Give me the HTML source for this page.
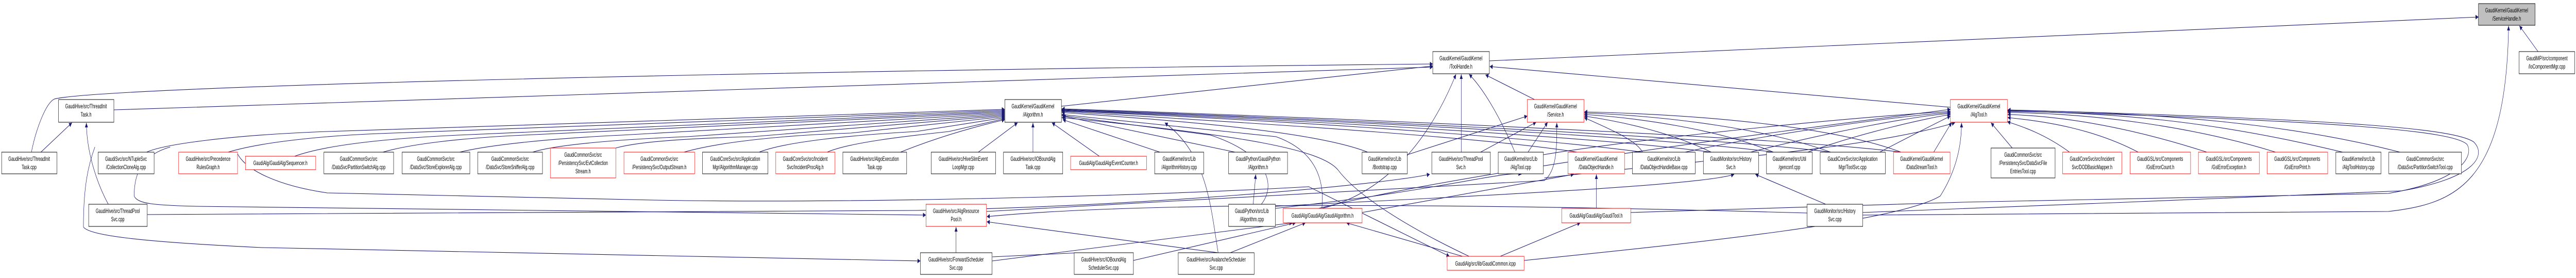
<!DOCTYPE html>
<html><head><meta charset="utf-8"><style>
html,body{margin:0;padding:0;background:#fff;width:100vw;height:100vh;overflow:hidden;}
svg{display:block;width:100vw;height:100vh;}
text{font-family:"Liberation Sans",Arial,sans-serif;font-size:11.5px;fill:#000;text-anchor:middle;}
.e{fill:none;stroke:#191970;stroke-width:1.1;}
.n{fill:#fff;stroke:#000;stroke-width:1;}
.r{fill:#fff;stroke:#ff0000;stroke-width:1;}
</style></head><body>
<svg viewBox="0 0 7873 539" preserveAspectRatio="none" xmlns="http://www.w3.org/2000/svg">
<defs><marker id="a" viewBox="0 0 10 10" refX="10" refY="5" markerWidth="9" markerHeight="9" markerUnits="userSpaceOnUse" orient="auto"><path d="M0,0 L10,5 L0,10 z" fill="#191970"/></marker></defs>
<g class="e" marker-end="url(#a)">
<path d="M4552,118 L7575,33"/>
<path d="M7757,100 L7700,50"/>
<path d="M5693,417 L7300,410 C7500,395 7660,360 7667,50"/>
<path d="M96,295 C110,250 140,200 166,192 C300,170 2000,140 4379,124"/>
<path d="M348,213 C1200,190 3000,160 4379,130"/>
<path d="M3244,206 L4379,128"/>
<path d="M125,295 L220,238"/>
<path d="M331,396 C300,360 265,300 264,238"/>
<path d="M450,416 C1500,412 2500,410 2800,408 C3500,400 4200,360 4370,338"/>
<path d="M4690,193 L4540,145"/>
<path d="M5961,208 L4553,129"/>
<path d="M4466,295 L4466,144"/>
<path d="M4630,295 C4580,220 4530,170 4490,144"/>
<path d="M4040,404 C4200,380 4350,300 4450,144"/>
<path d="M448,295 C500,280 700,262 1000,255 L3071,212"/>
<path d="M697,295 C800,275 1000,262 1200,258 L3071,214"/>
<path d="M900,303 C1000,280 1200,268 1400,262 L3071,216"/>
<path d="M1170,295 C1250,280 1400,268 1600,262 L3071,218"/>
<path d="M1405,295 C1500,280 1700,268 1900,262 L3071,220"/>
<path d="M1628,295 C1700,280 1900,270 2100,265 L3071,222"/>
<path d="M1882,287 C1950,275 2100,268 2300,265 L3071,224"/>
<path d="M2090,295 C2200,275 2400,262 2600,258 L3071,226"/>
<path d="M2320,295 C2400,275 2600,262 2800,255 L3071,228"/>
<path d="M2528,295 C2600,275 2800,262 2900,255 L3071,230"/>
<path d="M2752,295 C2850,270 2950,250 3071,232"/>
<path d="M2990,295 L3110,238"/>
<path d="M3157,295 L3157,238"/>
<path d="M3360,303 L3215,238"/>
<path d="M3545,295 L3248,232"/>
<path d="M3775,295 L3248,225"/>
<path d="M520,285 C440,300 410,330 410,380 C420,395 470,398 600,400 L2830,417"/>
<path d="M290,285 C270,320 255,360 255,440 C270,455 400,468 800,480 L2813,506"/>
<path d="M725,297 C750,330 850,360 1000,374 L2000,388 C2600,395 3500,380 4000,362 L4430,497"/>
<path d="M5020,295 C4600,260 3800,230 3245,215"/>
<path d="M5230,295 C4800,260 3800,228 3245,214"/>
<path d="M5420,295 C5000,260 3800,226 3245,213"/>
<path d="M5595,295 C5200,262 3800,224 3245,212"/>
<path d="M5810,295 C5400,262 3800,222 3245,211"/>
<path d="M4820,295 C4500,262 3600,230 3245,216"/>
<path d="M4180,295 C4000,250 3500,230 3245,218"/>
<path d="M4040,404 C4050,340 4010,290 3900,265 L3245,222"/>
<path d="M3855,396 C3900,360 3880,300 3700,262 L3245,224"/>
<path d="M4490,497 C4300,440 4150,380 4090,330 C4040,290 3800,262 3245,228"/>
<path d="M3723,490 C3700,400 3690,300 3560,238"/>
<path d="M3830,396 L3838,338"/>
<path d="M4301,300 L4668,225"/>
<path d="M4525,295 L4695,237"/>
<path d="M4670,295 L4730,237"/>
<path d="M3015,410 L4720,350 C4760,330 4758,280 4758,238"/>
<path d="M5020,295 C5000,270 4900,245 4842,228"/>
<path d="M5230,295 C5100,255 4950,235 4842,225"/>
<path d="M5420,295 C5250,250 5000,228 4842,222"/>
<path d="M5595,295 C5400,250 5100,225 4842,219"/>
<path d="M5810,295 C5600,245 5200,222 4842,217"/>
<path d="M4717,300 C5000,270 5600,230 5961,216"/>
<path d="M5150,295 C5400,260 5800,225 5961,218"/>
<path d="M5350,295 C5600,255 5850,225 5961,220"/>
<path d="M5525,295 C5700,255 5900,228 5961,222"/>
<path d="M5745,295 C5850,260 5930,235 5961,225"/>
<path d="M5910,295 L5965,237"/>
<path d="M4030,404 C4500,330 5500,250 5961,212"/>
<path d="M6150,287 L6085,238"/>
<path d="M6325,295 C6250,260 6180,245 6135,236"/>
<path d="M6535,295 C6400,250 6250,235 6136,228"/>
<path d="M6745,295 C6500,245 6300,225 6136,222"/>
<path d="M6955,295 C6700,245 6400,220 6136,218"/>
<path d="M7160,295 C6800,240 6500,218 6136,216"/>
<path d="M7335,295 C7000,240 6600,218 6136,214"/>
<path d="M4984,412 L6000,392 L7300,375 C7530,350 7560,300 7540,280 C7500,255 7200,235 6136,215"/>
<path d="M5693,412 L6500,392 L7340,370 C7570,345 7600,300 7560,275 C7500,250 7200,232 6136,213"/>
<path d="M4658,505 C5200,470 5800,430 5930,380 C5980,330 5995,280 5995,238"/>
<path d="M4720,345 C5200,310 5700,290 5975,238"/>
<path d="M2922,490 L2922,440"/>
<path d="M3723,490 L3016,430"/>
<path d="M3032,506 L3950,432"/>
<path d="M3464,505 L3960,432"/>
<path d="M3760,490 L3990,432"/>
<path d="M3033,498 L3300,490 L3464,495"/>
<path d="M4470,497 L4115,432"/>
<path d="M4585,497 L4830,432"/>
<path d="M4163,412 L4810,338"/>
<path d="M4879,404 L4879,338"/>
<path d="M5580,396 L5365,338"/>
<path d="M5523,413 C4500,395 3500,390 3016,420"/>
<path d="M3898,400 C4500,380 5200,360 5300,338"/>
<path d="M3898,404 C4400,370 4600,330 4650,338"/>
</g>
<g>
<rect class="n" x="7575" y="7" width="173" height="42" style="fill:#bfbfbf"/><text x="7661" y="24">GaudiKernel/GaudiKernel</text><text x="7661" y="40">/ServiceHandle.h</text>
<rect class="n" x="4379" y="100" width="173" height="43"/><text x="4465" y="117">GaudiKernel/GaudiKernel</text><text x="4465" y="133">/ToolHandle.h</text>
<rect class="n" x="7699" y="100" width="170" height="43"/><text x="7784" y="117">GaudiMP/src/component</text><text x="7784" y="133">/IoComponentMgr.cpp</text>
<rect class="n" x="179" y="193" width="169" height="44"/><text x="263" y="210">GaudiHive/src/ThreadInit</text><text x="263" y="226">Task.h</text>
<rect class="n" x="3071" y="193" width="173" height="44"/><text x="3157" y="210">GaudiKernel/GaudiKernel</text><text x="3157" y="226">/Algorithm.h</text>
<rect class="r" x="4668" y="193" width="173" height="44"/><text x="4754" y="210">GaudiKernel/GaudiKernel</text><text x="4754" y="226">/Service.h</text>
<rect class="r" x="5961" y="193" width="174" height="44"/><text x="6048" y="210">GaudiKernel/GaudiKernel</text><text x="6048" y="226">/AlgTool.h</text>

<rect class="n" x="5" y="295" width="169" height="42"/><text x="89" y="312">GaudiHive/src/ThreadInit</text><text x="89" y="328">Task.cpp</text>
<rect class="n" x="300" y="295" width="171" height="42"/><text x="385" y="312">GaudiSvc/src/NTupleSvc</text><text x="385" y="328">/CollectionCloneAlg.cpp</text>
<rect class="r" x="546" y="295" width="180" height="42"/><text x="636" y="312">GaudiHive/src/Precedence</text><text x="636" y="328">RulesGraph.h</text>
<rect class="r" x="750" y="303" width="215" height="26"/><text x="857" y="320">GaudiAlg/GaudiAlg/Sequencer.h</text>
<rect class="n" x="990" y="295" width="213" height="42"/><text x="1096" y="312">GaudiCommonSvc/src</text><text x="1096" y="328">/DataSvc/PartitionSwitchAlg.cpp</text>
<rect class="n" x="1229" y="295" width="207" height="42"/><text x="1332" y="312">GaudiCommonSvc/src</text><text x="1332" y="328">/DataSvc/StoreExplorerAlg.cpp</text>
<rect class="n" x="1460" y="295" width="198" height="42"/><text x="1559" y="312">GaudiCommonSvc/src</text><text x="1559" y="328">/DataSvc/StoreSnifferAlg.cpp</text>
<rect class="r" x="1682" y="287" width="200" height="58"/><text x="1782" y="304">GaudiCommonSvc/src</text><text x="1782" y="320">/PersistencySvc/EvtCollection</text><text x="1782" y="336">Stream.h</text>
<rect class="r" x="1907" y="295" width="216" height="42"/><text x="2015" y="312">GaudiCommonSvc/src</text><text x="2015" y="328">/PersistencySvc/OutputStream.h</text>
<rect class="n" x="2147" y="295" width="200" height="42"/><text x="2247" y="312">GaudiCoreSvc/src/Application</text><text x="2247" y="328">Mgr/AlgorithmManager.cpp</text>
<rect class="r" x="2371" y="295" width="181" height="42"/><text x="2461" y="312">GaudiCoreSvc/src/Incident</text><text x="2461" y="328">Svc/IncidentProcAlg.h</text>
<rect class="n" x="2576" y="295" width="195" height="42"/><text x="2673" y="312">GaudiHive/src/AlgoExecution</text><text x="2673" y="328">Task.cpp</text>
<rect class="n" x="2846" y="295" width="197" height="42"/><text x="2944" y="312">GaudiHive/src/HiveSlimEvent</text><text x="2944" y="328">LoopMgr.cpp</text>
<rect class="n" x="3067" y="295" width="181" height="42"/><text x="3157" y="312">GaudiHive/src/IOBoundAlg</text><text x="3157" y="328">Task.cpp</text>
<rect class="r" x="3272" y="303" width="232" height="26"/><text x="3388" y="320">GaudiAlg/GaudiAlg/EventCounter.h</text>
<rect class="n" x="3529" y="295" width="150" height="42"/><text x="3604" y="312">GaudiKernel/src/Lib</text><text x="3604" y="328">/AlgorithmHistory.cpp</text>
<rect class="n" x="3755" y="295" width="180" height="42"/><text x="3845" y="312">GaudiPython/GaudiPython</text><text x="3845" y="328">/Algorithm.h</text>
<rect class="n" x="4163" y="295" width="138" height="42"/><text x="4232" y="312">GaudiKernel/src/Lib</text><text x="4232" y="328">/Bootstrap.cpp</text>
<rect class="n" x="4376" y="295" width="179" height="42"/><text x="4465" y="312">GaudiHive/src/ThreadPool</text><text x="4465" y="328">Svc.h</text>
<rect class="n" x="4579" y="295" width="138" height="42"/><text x="4648" y="312">GaudiKernel/src/Lib</text><text x="4648" y="328">/AlgTool.cpp</text>
<rect class="r" x="4792" y="295" width="173" height="42"/><text x="4878" y="312">GaudiKernel/GaudiKernel</text><text x="4878" y="328">/DataObjectHandle.h</text>
<rect class="n" x="4989" y="295" width="192" height="42"/><text x="5085" y="312">GaudiKernel/src/Lib</text><text x="5085" y="328">/DataObjectHandleBase.cpp</text>
<rect class="n" x="5206" y="295" width="169" height="42"/><text x="5290" y="312">GaudiMonitor/src/History</text><text x="5290" y="328">Svc.h</text>
<rect class="n" x="5399" y="295" width="140" height="42"/><text x="5469" y="312">GaudiKernel/src/Util</text><text x="5469" y="328">/genconf.cpp</text>
<rect class="n" x="5563" y="295" width="199" height="42"/><text x="5662" y="312">GaudiCoreSvc/src/Application</text><text x="5662" y="328">Mgr/ToolSvc.cpp</text>
<rect class="r" x="5787" y="295" width="173" height="42"/><text x="5873" y="312">GaudiKernel/GaudiKernel</text><text x="5873" y="328">/DataStreamTool.h</text>
<rect class="n" x="6085" y="287" width="196" height="58"/><text x="6183" y="304">GaudiCommonSvc/src</text><text x="6183" y="320">/PersistencySvc/DataSvcFile</text><text x="6183" y="336">EntriesTool.cpp</text>
<rect class="r" x="6304" y="295" width="181" height="42"/><text x="6394" y="312">GaudiCoreSvc/src/Incident</text><text x="6394" y="328">Svc/DODBasicMapper.h</text>
<rect class="r" x="6510" y="295" width="185" height="42"/><text x="6602" y="312">GaudiGSL/src/Components</text><text x="6602" y="328">/GslErrorCount.h</text>
<rect class="r" x="6719" y="295" width="186" height="42"/><text x="6812" y="312">GaudiGSL/src/Components</text><text x="6812" y="328">/GslErrorException.h</text>
<rect class="r" x="6929" y="295" width="185" height="42"/><text x="7021" y="312">GaudiGSL/src/Components</text><text x="7021" y="328">/GslErrorPrint.h</text>
<rect class="n" x="7139" y="295" width="138" height="42"/><text x="7208" y="312">GaudiKernel/src/Lib</text><text x="7208" y="328">/AlgToolHistory.cpp</text>
<rect class="n" x="7301" y="295" width="222" height="42"/><text x="7412" y="312">GaudiCommonSvc/src</text><text x="7412" y="328">/DataSvc/PartitionSwitchTool.cpp</text>

<rect class="n" x="271" y="396" width="179" height="43"/><text x="360" y="413">GaudiHive/src/ThreadPool</text><text x="360" y="429">Svc.cpp</text>
<rect class="r" x="2830" y="396" width="185" height="43"/><text x="2922" y="413">GaudiHive/src/AlgResource</text><text x="2922" y="429">Pool.h</text>
<rect class="n" x="3755" y="396" width="143" height="43"/><text x="3826" y="413">GaudiPython/src/Lib</text><text x="3826" y="429">/Algorithm.cpp</text>
<rect class="r" x="3922" y="404" width="241" height="28"/><text x="4042" y="422">GaudiAlg/GaudiAlg/GaudiAlgorithm.h</text>
<rect class="r" x="4773" y="404" width="211" height="28"/><text x="4878" y="422">GaudiAlg/GaudiAlg/GaudiTool.h</text>
<rect class="n" x="5523" y="396" width="170" height="43"/><text x="5608" y="413">GaudiMonitor/src/History</text><text x="5608" y="429">Svc.cpp</text>

<rect class="n" x="2813" y="490" width="219" height="42"/><text x="2922" y="507">GaudiHive/src/ForwardScheduler</text><text x="2922" y="523">Svc.cpp</text>
<rect class="n" x="3283" y="490" width="181" height="42"/><text x="3373" y="507">GaudiHive/src/IOBoundAlg</text><text x="3373" y="523">SchedulerSvc.cpp</text>
<rect class="n" x="3601" y="490" width="232" height="42"/><text x="3717" y="507">GaudiHive/src/AvalancheScheduler</text><text x="3717" y="523">Svc.cpp</text>
<rect class="r" x="4423" y="497" width="235" height="27"/><text x="4540" y="515">GaudiAlg/src/lib/GaudiCommon.icpp</text>
</g>
</svg>
</body></html>
